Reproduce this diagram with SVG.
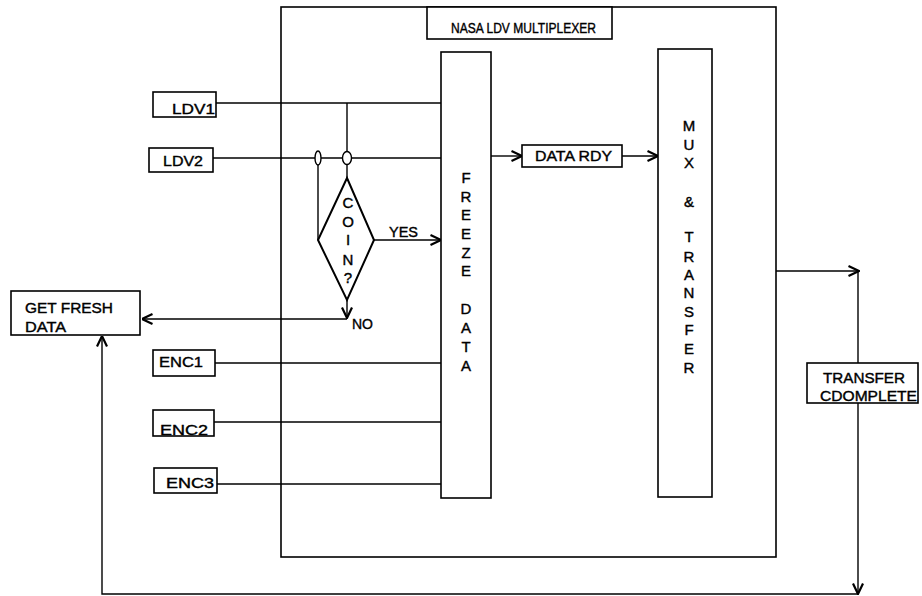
<svg xmlns="http://www.w3.org/2000/svg" width="922" height="596" viewBox="0 0 922 596">
<style>
.box{fill:#fff;stroke:#000;stroke-width:1.6}
.ln{fill:none;stroke:#000;stroke-width:1.4}
.t{font-family:"Liberation Sans",Arial,sans-serif;font-size:15px;fill:#000;stroke:#000;stroke-width:0.4}
.s{font-family:"Liberation Sans",Arial,sans-serif;font-size:15px;fill:#000;stroke:#000;stroke-width:0.4;text-anchor:middle}
</style>
<defs>
<marker id="arr" viewBox="0 0 12 12" refX="11.5" refY="6" markerWidth="12" markerHeight="12" orient="auto" markerUnits="userSpaceOnUse">
<path d="M1,1 L11.5,6 L1,11" fill="none" stroke="#000" stroke-width="2.2"/>
</marker>
</defs>
<rect width="922" height="596" fill="#fff"/>
<g id="multiplexer">
<rect class="box" x="281" y="7" width="495" height="550"/>
</g>
<g id="title">
<rect class="box" x="427" y="7" width="185" height="32"/>
<text class="t" x="451" y="33" font-size="16" textLength="145" lengthAdjust="spacingAndGlyphs">NASA LDV MULTIPLEXER</text>
</g>
<g id="connectors">
<line class="ln" x1="216" y1="103" x2="441" y2="103"/>
<line class="ln" x1="213" y1="158" x2="441" y2="158"/>
<line class="ln" x1="347" y1="103" x2="347" y2="178"/>
<line class="ln" x1="318" y1="158" x2="318" y2="240"/>
<line class="ln" x1="373" y1="240" x2="441" y2="240" marker-end="url(#arr)"/>
<line class="ln" x1="347" y1="300" x2="347" y2="318" marker-end="url(#arr)"/>
<line class="ln" x1="347" y1="319" x2="142" y2="319" marker-end="url(#arr)"/>
<line class="ln" x1="215" y1="363" x2="441" y2="363"/>
<line class="ln" x1="214" y1="422" x2="441" y2="422"/>
<line class="ln" x1="217" y1="484" x2="441" y2="484"/>
<line class="ln" x1="491" y1="156" x2="522" y2="156" marker-end="url(#arr)"/>
<line class="ln" x1="622" y1="156" x2="658" y2="156" marker-end="url(#arr)"/>
<line class="ln" x1="776" y1="271" x2="859" y2="271" marker-end="url(#arr)"/>
<line class="ln" x1="858" y1="271" x2="858" y2="363"/>
<line class="ln" x1="858" y1="403" x2="858" y2="594" marker-end="url(#arr)"/>
<polyline class="ln" points="858,594 102,594 102,336" marker-end="url(#arr)"/>
<ellipse cx="318" cy="158" rx="3" ry="7" fill="#fff" stroke="#000" stroke-width="1.4"/>
<ellipse cx="347" cy="158" rx="4.5" ry="6.5" fill="#fff" stroke="#000" stroke-width="1.4"/>
</g>
<g id="ldv1">
<rect class="box" x="153" y="92" width="63" height="25"/>
<text class="t" x="172" y="114" textLength="43" lengthAdjust="spacingAndGlyphs">LDV1</text>
</g>
<g id="ldv2">
<rect class="box" x="149" y="148" width="64" height="24"/>
<text class="t" x="163" y="166" textLength="40" lengthAdjust="spacingAndGlyphs">LDV2</text>
</g>
<g id="coin">
<polygon points="347,178 374,240 347,300 318,240" fill="#fff" stroke="#000" stroke-width="2"/>
<text class="s" x="348" y="208">C</text>
<text class="s" x="348" y="227">O</text>
<text class="s" x="348" y="245">I</text>
<text class="s" x="348" y="265">N</text>
<text class="s" x="348" y="283">?</text>
</g>
<text class="t" x="389" y="237" font-size="14" textLength="29" lengthAdjust="spacingAndGlyphs">YES</text>
<text class="t" x="352" y="329" font-size="13" textLength="21" lengthAdjust="spacingAndGlyphs">NO</text>
<g id="get-fresh">
<rect class="box" x="11" y="291" width="129" height="44"/>
<text class="t" x="25" y="313" textLength="88" lengthAdjust="spacingAndGlyphs">GET FRESH</text>
<text class="t" x="25" y="332" textLength="41" lengthAdjust="spacingAndGlyphs">DATA</text>
</g>
<g id="enc1">
<rect class="box" x="153" y="350" width="62" height="26"/>
<text class="t" x="159" y="367" textLength="44" lengthAdjust="spacingAndGlyphs">ENC1</text>
</g>
<g id="enc2">
<rect class="box" x="153" y="410" width="61" height="26"/>
<text class="t" x="160" y="435" textLength="48" lengthAdjust="spacingAndGlyphs">ENC2</text>
</g>
<g id="enc3">
<rect class="box" x="154" y="468" width="63" height="25"/>
<text class="t" x="166" y="488" textLength="48" lengthAdjust="spacingAndGlyphs">ENC3</text>
</g>
<g id="freeze">
<rect class="box" x="441" y="52" width="50" height="446"/>
<text class="s" x="466" y="183">F</text>
<text class="s" x="466" y="202">R</text>
<text class="s" x="466" y="220">E</text>
<text class="s" x="466" y="239">E</text>
<text class="s" x="466" y="258">Z</text>
<text class="s" x="466" y="276">E</text>
<text class="s" x="466" y="314">D</text>
<text class="s" x="466" y="333">A</text>
<text class="s" x="466" y="352">T</text>
<text class="s" x="466" y="371">A</text>
</g>
<g id="data-rdy">
<rect class="box" x="522" y="145" width="100" height="22"/>
<text class="t" x="535" y="161" font-size="14" textLength="77" lengthAdjust="spacingAndGlyphs">DATA RDY</text>
</g>
<g id="mux">
<rect class="box" x="658" y="49" width="54" height="448"/>
<text class="s" x="689" y="131">M</text>
<text class="s" x="689" y="150">U</text>
<text class="s" x="689" y="168">X</text>
<text class="s" x="689" y="207">&amp;</text>
<text class="s" x="689" y="242">T</text>
<text class="s" x="689" y="262">R</text>
<text class="s" x="689" y="280">A</text>
<text class="s" x="689" y="298">N</text>
<text class="s" x="689" y="317">S</text>
<text class="s" x="689" y="335">F</text>
<text class="s" x="689" y="354">E</text>
<text class="s" x="689" y="373">R</text>
</g>
<g id="transfer-complete">
<rect class="box" x="807" y="363" width="111" height="40"/>
<text class="t" x="823" y="383" textLength="82" lengthAdjust="spacingAndGlyphs">TRANSFER</text>
<text class="t" x="820" y="401" textLength="97" lengthAdjust="spacingAndGlyphs">CDOMPLETE</text>
</g>
</svg>
